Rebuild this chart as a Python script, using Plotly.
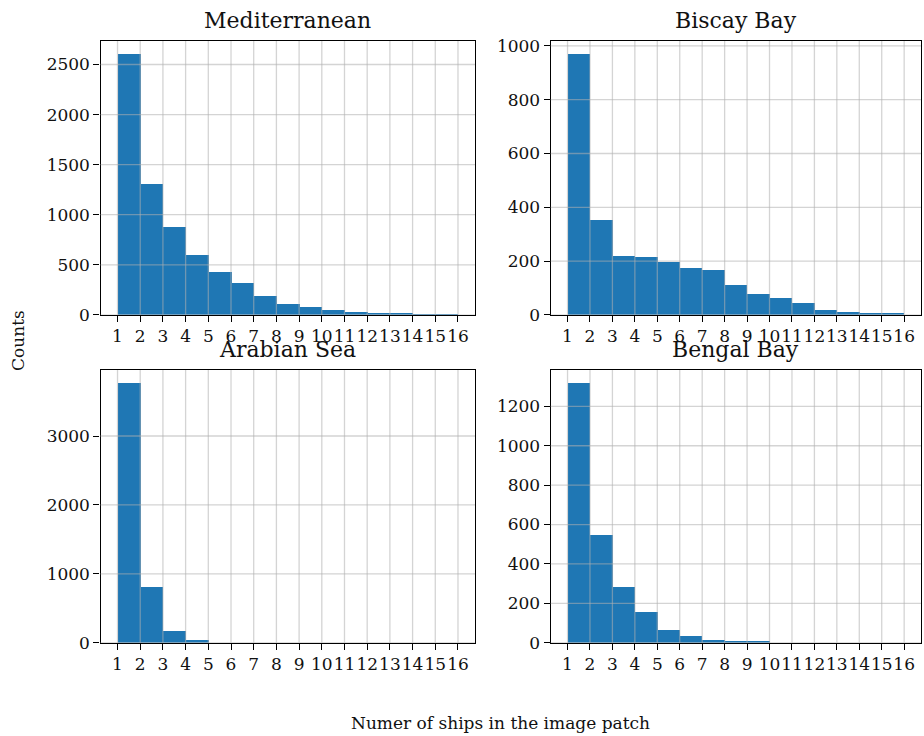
import plotly.graph_objects as go

# ---- data ----
bin_edges = list(range(1, 17))           # 1..16
tick_labels = [str(v) for v in bin_edges]
regions = ["Mediterranean", "Biscay Bay", "Arabian Sea", "Bengal Bay"]
mediterranean = [2605, 1305, 875, 595, 428, 319, 190, 112, 82, 52, 33, 13, 13, 3, 2]
biscay_bay = [970, 352, 219, 216, 195, 173, 166, 111, 78, 63, 45, 19, 12, 5, 8]
arabian_sea = [3768, 810, 175, 33, 0, 0, 0, 0, 0, 0, 0, 0, 0, 0, 0]
bengal_bay = [1318, 547, 284, 156, 65, 35, 15, 5, 5, 0, 0, 0, 0, 0, 0]
y_dticks = [500, 200, 1000, 200]

series = [mediterranean, biscay_bay, arabian_sea, bengal_bay]
centers = [(a + b) / 2 for a, b in zip(bin_edges[:-1], bin_edges[1:])]

W, H = 924, 736
FONT = "DejaVu Serif"
BLUE = "#1f77b4"
GRID = "rgba(176,176,176,0.55)"

# subplot boxes in pixels (left, right, top, bottom)
boxes = [
    (100.5, 475.0, 36.7, 316.3),
    (550.7, 921.0, 36.7, 316.3),
    (100.5, 475.0, 372.7, 651.0),
    (550.7, 921.0, 372.7, 651.0),
]

fig = go.Figure()
shapes = []
annotations = []

for i, (name, vals, dt, box) in enumerate(zip(regions, series, y_dticks, boxes)):
    k = "" if i == 0 else str(i + 1)
    xa, ya = "x" + k, "y" + k
    l, r, t, b = box
    fig.add_trace(go.Bar(
        x=centers, y=vals, width=1.0,
        marker=dict(color=BLUE, line=dict(width=0)),
        xaxis=xa, yaxis=ya, showlegend=False, hoverinfo="x+y",
    ))
    ymax = max(vals) * 1.05
    common = dict(
        showline=True, linecolor="black", linewidth=1.3, mirror=True,
        ticks="outside", ticklen=6, tickwidth=1.3, tickcolor="black",
        showgrid=False, zeroline=False,
        tickfont=dict(family=FONT, size=17, color="#111"),
    )
    fig.layout["xaxis" + k] = dict(
        domain=[l / W, r / W], anchor=ya, range=[0.25, 16.75], tickangle=0,
        tickmode="array", tickvals=bin_edges, ticktext=tick_labels, **common)
    fig.layout["yaxis" + k] = dict(
        domain=[1 - b / H, 1 - t / H], anchor=xa, range=[0, ymax],
        tick0=0, dtick=dt, **common)
    # grid lines drawn above the bars (matplotlib default)
    for v in bin_edges:
        shapes.append(dict(type="line", xref=xa, yref=ya + " domain",
                           x0=v, x1=v, y0=0, y1=1, layer="above",
                           line=dict(color=GRID, width=1.3)))
    yv = 0
    while yv <= ymax:
        shapes.append(dict(type="line", xref=xa + " domain", yref=ya,
                           x0=0, x1=1, y0=yv, y1=yv, layer="above",
                           line=dict(color=GRID, width=1.3)))
        yv += dt
    annotations.append(dict(
        text=name, x=(l + r) / 2 / W, y=1 - (t - 6) / H, xref="paper", yref="paper",
        xanchor="center", yanchor="bottom", showarrow=False,
        font=dict(family=FONT, size=22, color="#111")))

annotations.append(dict(
    text="Counts", x=18 / W, y=1 - 343 / H, xref="paper", yref="paper",
    xanchor="center", yanchor="middle", textangle=-90, showarrow=False,
    font=dict(family=FONT, size=17, color="#111")))
annotations.append(dict(
    text="Numer of ships in the image patch", x=500 / W, y=1 - 733 / H,
    xref="paper", yref="paper", xanchor="center", yanchor="middle",
    showarrow=False, font=dict(family=FONT, size=17, color="#111")))

fig.update_layout(
    width=W, height=H, margin=dict(l=0, r=0, t=0, b=0),
    paper_bgcolor="white", plot_bgcolor="white",
    bargap=0, shapes=shapes, annotations=annotations,
    font=dict(family=FONT),
)

fig.write_html("out.html")
